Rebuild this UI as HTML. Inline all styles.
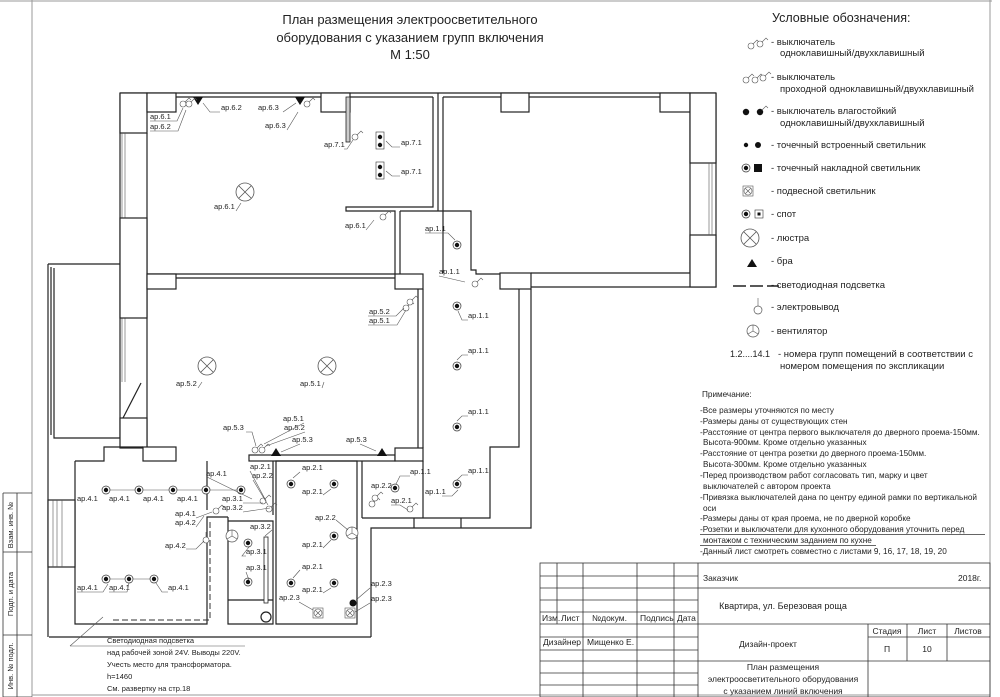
<!DOCTYPE html>
<html><head><meta charset="utf-8"><style>
html,body{margin:0;padding:0;background:#fff}
svg{display:block}
text{font-family:"Liberation Sans",sans-serif;fill:#222}
.w{stroke:#222;stroke-width:1.2;fill:none}
.wf{stroke:#222;stroke-width:1.2;fill:#fff}
.t{stroke:#555;stroke-width:0.6;fill:none}
.l{font-size:7.5px}
.g{font-size:9.5px}
.n{font-size:8.2px}
.tb{font-size:8.5px}
</style></head><body>
<svg width="1000" height="697" viewBox="0 0 1000 697" xmlns="http://www.w3.org/2000/svg">
<defs>
<g id="sp"><circle r="4" fill="#fff" stroke="#333" stroke-width="0.7"/><circle r="2.2" fill="#111"/></g>
<g id="ch"><circle r="9" fill="none" stroke="#555" stroke-width="0.8"/><path d="M-6.4,-6.4L6.4,6.4M6.4,-6.4L-6.4,6.4" stroke="#555" stroke-width="0.8"/></g>
<g id="sw"><circle r="3" fill="#fff" stroke="#555" stroke-width="0.6"/><path d="M2,-2L6,-6L8,-4" stroke="#555" stroke-width="0.6" fill="none"/></g>
<g id="br"><path d="M-5,-4L5,-4L0,4Z" fill="#111"/></g>
<g id="bru"><path d="M-5,4L5,4L0,-4Z" fill="#111"/></g>
<g id="ve"><circle r="6" fill="#fff" stroke="#555" stroke-width="0.7"/><path d="M0,0V-6M0,0L5,3M0,0L-5,3" stroke="#555" stroke-width="0.6"/></g>
<g id="pd"><rect x="-5" y="-5" width="10" height="10" fill="#fff" stroke="#555" stroke-width="0.6"/><circle r="4" fill="none" stroke="#555" stroke-width="0.6"/><path d="M-3,-3L3,3M3,-3L-3,3" stroke="#555" stroke-width="0.6"/></g>
</defs>

<path d="M32,0V697M0,1H992M990,0V697M32,695H990" stroke="#999" stroke-width="1" fill="none"/>
<path d="M3,493H32M3,552H32M3,635H32M3,697H32M3,493V697M17,493V697" stroke="#333" stroke-width="0.8" fill="none"/>
<text class="l" transform="translate(13,525) rotate(-90)" text-anchor="middle">Взам. инв. №</text>
<text class="l" transform="translate(13,594) rotate(-90)" text-anchor="middle">Подп. и дата</text>
<text class="l" transform="translate(13,666) rotate(-90)" text-anchor="middle">Инв. № подл.</text>

<text x="410" y="24" font-size="13" text-anchor="middle">План размещения электроосветительного</text>
<text x="410" y="42" font-size="13" text-anchor="middle">оборудования с указанием групп включения</text>
<text x="410" y="59" font-size="13" text-anchor="middle">М 1:50</text>

<path class="w" d="M120,93H716M176,97H321M350,97H433M120,93V438M147,133V448"/>
<rect class="wf" x="120" y="93" width="27" height="40"/>
<rect class="wf" x="147" y="93" width="29" height="19"/>
<rect class="wf" x="321" y="93" width="29" height="19"/>
<path class="t" d="M122,133V218M125,133V218M122,318V382M125,318V382"/>
<rect class="wf" x="120" y="218" width="27" height="100"/>
<rect class="wf" x="120" y="418" width="27" height="30"/>
<path class="w" d="M123,418L141,383" stroke-width="2"/>
<rect x="346" y="97" width="4" height="45" fill="#ccc" stroke="#222" stroke-width="0.8"/>
<path class="w" d="M433,97V207H346V211H395V274M400,211V274M400,211H471V270H476V274H500M438,93V211M443,97V273"/>
<path class="w" d="M443,97H690V273H531M716,93V287H531"/>
<rect class="wf" x="501" y="93" width="28" height="19"/>
<rect class="wf" x="660" y="93" width="30" height="19"/>
<rect class="wf" x="690" y="93" width="26" height="70"/>
<rect class="wf" x="690" y="235" width="26" height="52"/>
<path class="t" d="M709,163V235M712,163V235"/>
<rect class="wf" x="500" y="273" width="31" height="16"/>
<path class="w" d="M147,274H395M176,278H395M418,289V448M423,289V448"/>
<rect class="wf" x="147" y="274" width="29" height="15"/>
<rect class="wf" x="395" y="274" width="28" height="15"/>
<rect class="wf" x="249" y="455" width="146" height="6"/>
<rect class="wf" x="395" y="448" width="28" height="13"/>
<path class="w" d="M519,289V447H490V518H362M531,289V528H371V637M414,518V528M461,518V528M362,461V518M423,461V518"/>
<path class="w" d="M48,264H120M48,264V637M51,267V435M54,268V438H120M49,637H371"/>
<path class="w" d="M75,461V624H207V517H228M75,461H104V447H143M207,461V510"/>
<rect class="wf" x="143" y="447" width="33" height="14"/>
<rect class="wf" x="48" y="500" width="27" height="67"/>
<path class="t" d="M53,500V567M57,500V567M62,500V567"/>
<path class="w" d="M228,521H273V624H228ZM228,521V517M273,461V515M276,461H357V624H276Z"/>
<path class="w" d="M228,600H273"/>
<circle cx="266" cy="617" r="5" class="w"/>
<rect x="264" y="537" width="4" height="66" fill="#fff" stroke="#222" stroke-width="0.8"/>

<use href="#ch" x="245" y="192"/>
<use href="#ch" x="207" y="366"/>
<use href="#ch" x="327" y="366"/>
<use href="#br" x="198" y="101"/>
<use href="#br" x="300" y="101"/>
<use href="#bru" x="276" y="452"/>
<use href="#bru" x="382" y="452"/>
<use href="#sw" x="183" y="104"/><use href="#sw" x="189" y="104"/>
<use href="#sw" x="307" y="104"/>
<use href="#sw" x="355" y="137"/>
<use href="#sw" x="383" y="217"/>
<use href="#sw" x="475" y="284"/>
<use href="#sw" x="406" y="308"/><use href="#sw" x="410" y="302"/>
<use href="#sw" x="255" y="450"/><use href="#sw" x="262" y="450"/>
<use href="#sw" x="263" y="501"/><use href="#sw" x="269" y="509"/>
<use href="#sw" x="216" y="511"/>
<use href="#sw" x="372" y="504"/><use href="#sw" x="375" y="498"/>
<use href="#sw" x="410" y="509"/>
<rect x="376" y="132" width="8" height="17" fill="#fff" stroke="#333" stroke-width="0.6"/>
<circle cx="380" cy="137" r="2.2" fill="#111"/><circle cx="380" cy="145" r="2.2" fill="#111"/>
<rect x="376" y="162" width="8" height="17" fill="#fff" stroke="#333" stroke-width="0.6"/>
<circle cx="380" cy="167" r="2.2" fill="#111"/><circle cx="380" cy="175" r="2.2" fill="#111"/>
<use href="#sp" x="457" y="245"/><use href="#sp" x="457" y="306"/><use href="#sp" x="457" y="366"/><use href="#sp" x="457" y="427"/>
<use href="#sp" x="457" y="484"/><use href="#sp" x="395" y="488"/>
<path class="t" d="M106,490H241M106,579H154"/>
<use href="#sp" x="106" y="490"/><use href="#sp" x="139" y="490"/><use href="#sp" x="173" y="490"/><use href="#sp" x="206" y="490"/><use href="#sp" x="241" y="490"/>
<use href="#sp" x="106" y="579"/><use href="#sp" x="129" y="579"/><use href="#sp" x="154" y="579"/>
<circle cx="206" cy="540" r="3" fill="#fff" stroke="#555" stroke-width="0.6"/><path class="t" d="M206,537V532"/>
<use href="#ve" x="232" y="536"/>
<use href="#sp" x="248" y="543"/><use href="#sp" x="248" y="582"/>
<use href="#sp" x="291" y="484"/><use href="#sp" x="334" y="484"/>
<use href="#sp" x="334" y="536"/>
<use href="#sp" x="291" y="583"/><use href="#sp" x="334" y="583"/>
<use href="#ve" x="352" y="533"/>
<use href="#pd" x="318" y="613"/><use href="#pd" x="350" y="613"/>
<circle cx="353" cy="603" r="3.5" fill="#111"/>
<path d="M210,522V620H110" stroke="#333" stroke-width="1" stroke-dasharray="6,3" fill="none"/>

<g class="l">
<text x="150" y="119">ар.6.1</text><text x="150" y="129">ар.6.2</text>
<text x="221" y="110">ар.6.2</text><text x="258" y="110">ар.6.3</text><text x="265" y="128">ар.6.3</text>
<text x="324" y="147">ар.7.1</text><text x="401" y="145">ар.7.1</text><text x="401" y="174">ар.7.1</text>
<text x="214" y="209">ар.6.1</text><text x="345" y="228">ар.6.1</text>
<text x="425" y="231">ар.1.1</text><text x="439" y="274">ар.1.1</text>
<text x="468" y="318">ар.1.1</text><text x="468" y="353">ар.1.1</text><text x="468" y="414">ар.1.1</text>
<text x="468" y="473">ар.1.1</text><text x="425" y="494">ар.1.1</text>
<text x="410" y="474">ар.1.1</text><text x="371" y="488">ар.2.2</text><text x="391" y="503">ар.2.1</text>
<text x="369" y="314">ар.5.2</text><text x="369" y="323">ар.5.1</text>
<text x="176" y="386">ар.5.2</text><text x="300" y="386">ар.5.1</text>
<text x="223" y="430">ар.5.3</text><text x="283" y="421">ар.5.1</text><text x="284" y="430">ар.5.2</text>
<text x="292" y="442">ар.5.3</text><text x="346" y="442">ар.5.3</text>
<text x="206" y="476">ар.4.1</text><text x="250" y="469">ар.2.1</text><text x="252" y="478">ар.2.2</text>
<text x="77" y="501">ар.4.1</text><text x="109" y="501">ар.4.1</text><text x="143" y="501">ар.4.1</text><text x="177" y="501">ар.4.1</text>
<text x="222" y="501">ар.3.1</text><text x="222" y="510">ар.3.2</text>
<text x="175" y="516">ар.4.1</text><text x="175" y="525">ар.4.2</text>
<text x="165" y="548">ар.4.2</text>
<text x="250" y="529">ар.3.2</text><text x="246" y="554">ар.3.1</text><text x="246" y="570">ар.3.1</text>
<text x="77" y="590">ар.4.1</text><text x="109" y="590">ар.4.1</text><text x="168" y="590">ар.4.1</text>
<text x="302" y="470">ар.2.1</text><text x="302" y="494">ар.2.1</text><text x="315" y="520">ар.2.2</text>
<text x="302" y="547">ар.2.1</text><text x="302" y="569">ар.2.1</text><text x="302" y="592">ар.2.1</text>
<text x="279" y="600">ар.2.3</text><text x="371" y="586">ар.2.3</text><text x="371" y="601">ар.2.3</text>
</g>
<g class="t">
<path d="M150,121H177L183,108M150,131H178L186,110"/>
<path d="M220,112L210,112L203,103M283,112L296,103M287,130L298,112"/>
<path d="M344,149H347L353,140M400,147H392L386,141M400,176H392L386,171"/>
<path d="M236,211L241,203M366,230L374,220"/>
<path d="M425,233H448L455,240M439,276L465,282M468,320H462L458,311M468,355H462L457,360M468,416H462L457,421"/>
<path d="M468,475H462L457,480M410,476H400L396,484M442,496L452,496L458,490M391,505H400L408,510"/>
<path d="M368,316H396L404,308M368,325H397L406,310"/>
<path d="M198,388L202,382M322,388L324,382M246,432H252L256,446M304,423L264,444M305,432L266,446M300,444L281,452M360,444L376,451"/>
<path d="M207,477L252,499M250,471L265,499M253,480L268,505M243,512L270,508M243,503L263,503"/>
<path d="M196,518L212,512M196,527L204,516M186,549H196L204,541M272,530L265,536"/>
<path d="M246,556L242,556L249,547M246,572L249,580M77,592H103L108,584M109,592L127,592L129,583M168,592H162L156,583"/>
<path d="M300,472L293,478M323,495L331,489M336,520L348,530M323,548L331,540M300,570L293,578M323,593L331,588M299,602L313,610M370,588L356,600M370,603L355,612"/>
<path d="M70,646L103,617M70,646H245"/>
</g>
<g class="l" font-size="8">
<text x="107" y="643">Светодиодная подсветка</text>
<text x="107" y="655">над рабочей зоной 24V. Выводы 220V.</text>
<text x="107" y="667">Учесть место для трансформатора.</text>
<text x="107" y="679">h=1460</text>
<text x="107" y="691">См. развертку на стр.18</text>
</g>

<text x="772" y="22" font-size="12.5">Условные обозначения:</text>
<g class="g">
<text x="771" y="45">- выключатель</text><text x="780" y="56">одноклавишный/двухклавишный</text>
<text x="771" y="80">- выключатель</text><text x="780" y="92">проходной одноклавишный/двухклавишный</text>
<text x="771" y="114">- выключатель влагостойкий</text><text x="780" y="126">одноклавишный/двухклавишный</text>
<text x="771" y="148">- точечный встроенный светильник</text>
<text x="771" y="171">- точечный накладной светильник</text>
<text x="771" y="194">- подвесной светильник</text>
<text x="771" y="217">- спот</text>
<text x="771" y="241">- люстра</text>
<text x="771" y="264">- бра</text>
<text x="771" y="288">- светодиодная подсветка</text>
<text x="771" y="310">- электровывод</text>
<text x="771" y="334">- вентилятор</text>
<text x="730" y="357" font-size="9">1.2....14.1</text><text x="778" y="357">- номера групп помещений в соответствии с</text>
<text x="780" y="369">номером помещения по экспликации</text>
</g>
<g>
<use href="#sw" x="751" y="46"/><use href="#sw" x="760" y="44"/>
<use href="#sw" x="746" y="80"/><use href="#sw" x="755" y="80"/><use href="#sw" x="763" y="78"/>
<circle cx="746" cy="112" r="3.2" fill="#111"/><circle cx="760" cy="112" r="3.2" fill="#111"/><path class="t" d="M762,110L766,106L768,108"/>
<circle cx="746" cy="145" r="2.2" fill="#111"/><circle cx="758" cy="145" r="3" fill="#111"/>
<use href="#sp" x="746" y="168"/><rect x="754" y="164" width="8" height="8" fill="#111"/>
<use href="#pd" x="748" y="191"/>
<use href="#sp" x="746" y="214"/><rect x="755" y="210" width="8" height="8" fill="#fff" stroke="#333" stroke-width="0.6"/><rect x="757.5" y="212.5" width="3" height="3" fill="#111"/>
<use href="#ch" x="750" y="238"/>
<use href="#bru" x="752" y="263"/>
<path d="M733,286H746M750,286H763M767,286H779" stroke="#222" stroke-width="1.5"/>
<circle cx="758" cy="310" r="4" fill="none" stroke="#555" stroke-width="0.7"/><path class="t" d="M758,306V298"/>
<use href="#ve" x="753" y="331"/>
</g>

<g class="n">
<text x="702" y="397">Примечание:</text>
<text x="700" y="413">-Все размеры уточняются по месту</text>
<text x="700" y="424">-Размеры даны от существующих стен</text>
<text x="700" y="435">-Расстояние от центра первого выключателя до дверного проема-150мм.</text>
<text x="703" y="445">Высота-900мм. Кроме отдельно указанных</text>
<text x="700" y="456">-Расстояние от центра розетки до дверного проема-150мм.</text>
<text x="703" y="467">Высота-300мм. Кроме отдельно указанных</text>
<text x="700" y="478">-Перед производством работ согласовать тип, марку и цвет</text>
<text x="703" y="489">выключателей с автором проекта</text>
<text x="700" y="500">-Привязка выключателей дана по центру единой рамки по вертикальной</text>
<text x="703" y="511">оси</text>
<text x="700" y="521">-Размеры даны от края проема, не по дверной коробке</text>
<text x="700" y="532">-Розетки и выключатели для кухонного оборудования уточнить перед</text>
<text x="703" y="543">монтажом с техническим заданием по кухне</text>
<text x="700" y="554">-Данный лист смотреть совместно с листами 9, 16, 17, 18, 19, 20</text>
</g>
<path d="M700,534.5H985M700,545.5H876" stroke="#333" stroke-width="0.7"/>

<g stroke="#333" stroke-width="0.8" fill="none">
<rect x="540" y="563" width="450" height="134"/>
<path d="M540,576H698M540,588H990M540,600H698M540,612H698M540,624H990M540,637H698M868,637H990M540,650H698M540,661H990M540,673H698M540,685H698"/>
<path d="M557,563V624M583,563V697M637,563V697M674,563V697M698,563V697M868,624V697M907,624V661M947,624V661"/>
</g>
<g class="tb">
<text x="542" y="621">Изм.</text><text x="561" y="621">Лист</text><text x="592" y="621">№докум.</text><text x="640" y="621">Подпись</text><text x="677" y="621">Дата</text>
<text x="543" y="645">Дизайнер</text><text x="587" y="645">Мищенко Е.</text>
<text x="703" y="581">Заказчик</text><text x="958" y="581">2018г.</text>
<text x="783" y="609" text-anchor="middle" font-size="9">Квартира, ул. Березовая роща</text>
<text x="768" y="647" text-anchor="middle">Дизайн-проект</text>
<text x="887" y="634" text-anchor="middle">Стадия</text><text x="927" y="634" text-anchor="middle">Лист</text><text x="968" y="634" text-anchor="middle">Листов</text>
<text x="887" y="652" text-anchor="middle">П</text><text x="927" y="652" text-anchor="middle">10</text>
<text x="783" y="670" text-anchor="middle">План размещения</text>
<text x="783" y="682" text-anchor="middle">электроосветительного оборудования</text>
<text x="783" y="694" text-anchor="middle">с указанием линий включения</text>
</g>
</svg>
</body></html>
